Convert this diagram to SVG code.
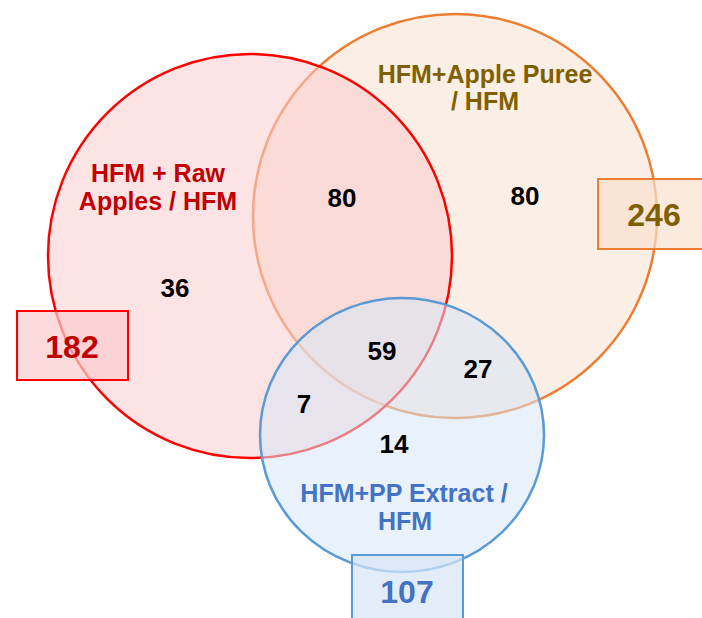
<svg xmlns="http://www.w3.org/2000/svg" width="702" height="618" viewBox="0 0 702 618">
<style>
text{font-family:"Liberation Sans",Arial,sans-serif;font-weight:bold;text-anchor:middle}
.lbl{font-size:25px}
.num{font-size:26px;fill:#000}
.tot{font-size:32px}
.red{fill:#C00000}
.org{fill:#7F6000}
.blu{fill:#4472C4}
</style>
<rect width="702" height="618" fill="#fff"/>
<g id="set-puree">
<circle cx="455" cy="216" r="202" fill="#F8E0CE" fill-opacity="0.55" stroke="#ED7D31" stroke-width="2.5"/>
<text class="lbl org" x="485" y="83">HFM+Apple Puree</text>
<text class="lbl org" x="485" y="110">/ HFM</text>
</g>
<g id="set-raw">
<circle cx="250" cy="256" r="202" fill="#FBCCCE" fill-opacity="0.55" stroke="#FF0000" stroke-width="2.5"/>
<text class="lbl red" x="158" y="182">HFM + Raw</text>
<text class="lbl red" x="158" y="210">Apples / HFM</text>
</g>
<g id="set-extract">
<ellipse cx="402" cy="435" rx="142" ry="137" fill="#D7E5F6" fill-opacity="0.55" stroke="#5B9BD5" stroke-width="2.5"/>
<text class="lbl blu" x="404" y="502">HFM+PP Extract /</text>
<text class="lbl blu" x="405" y="530">HFM</text>
</g>
<g id="total-raw">
<rect x="17" y="311" width="111" height="69" fill="#FBCCCE" fill-opacity="0.7" stroke="#FF0000" stroke-width="2"/>
<text class="tot red" x="72" y="358">182</text>
</g>
<g id="total-puree">
<rect x="598" y="179" width="112" height="70" fill="#F8E0CE" fill-opacity="0.7" stroke="#ED7D31" stroke-width="2"/>
<text class="tot org" x="654" y="226">246</text>
</g>
<g id="total-extract">
<rect x="352" y="555" width="111" height="75" fill="#D7E5F6" fill-opacity="0.7" stroke="#5B9BD5" stroke-width="2"/>
<text class="tot blu" x="407" y="603">107</text>
</g>
<g id="counts">
<text class="num" x="175" y="297">36</text>
<text class="num" x="342" y="207">80</text>
<text class="num" x="525" y="205">80</text>
<text class="num" x="382" y="360">59</text>
<text class="num" x="478" y="378">27</text>
<text class="num" x="304" y="413">7</text>
<text class="num" x="394" y="453">14</text>
</g>
<g id="connectors"/>
</svg>
